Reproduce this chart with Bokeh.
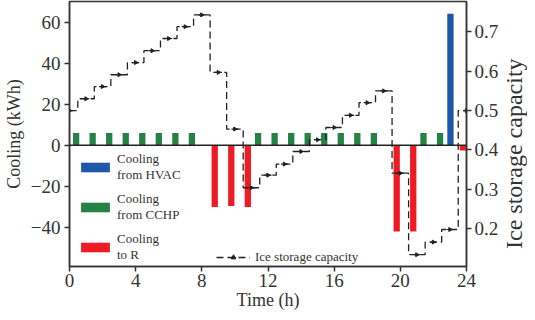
import numpy as np
from bokeh.plotting import figure
from bokeh.layouts import row
from bokeh.models import (ColumnDataSource, Range1d, LinearAxis, FixedTicker, Span,
                          Legend, LegendItem, Div)
from bokeh.transform import dodge
from bokeh.embed import file_html
from bokeh.resources import INLINE

# ---- data ----
hours = list(range(24))
cooling_hvac = [0, 0, 0, 0, 0, 0, 0, 0, 0, 0, 0, 0, 0, 0, 0, 0, 0, 0, 0, 0, 0, 0, 0, 64]
cooling_cchp = [6, 6, 6, 6, 6, 6, 6, 6, 0, 0, 0, 6, 6, 6, 6, 6, 6, 6, 6, 0, 0, 6, 6, 0]
cooling_to_r = [0, 0, 0, 0, 0, 0, 0, 0, -30, -29.5, -30, 0, 0, 0, 0, 0, 0, 0, 0, -42, -42, 0, 0, -2.5]

ice_hours = list(range(25))
ice_capacity = [0.500, 0.530, 0.561, 0.591, 0.622, 0.652, 0.683, 0.713, 0.743,
                0.597, 0.453, 0.304, 0.336, 0.364, 0.396, 0.426, 0.457, 0.488,
                0.520, 0.550, 0.341, 0.134, 0.166, 0.198, 0.500]

x_ticks = [0, 4, 8, 12, 16, 20, 24]
left_ticks = [-40, -20, 0, 20, 40, 60]
left_tick_labels = ["\u221240", "\u221220", "0", "20", "40", "60"]
right_ticks = [0.2, 0.3, 0.4, 0.5, 0.6, 0.7]

legend_labels = ["Cooling\nfrom HVAC", "Cooling\nfrom CCHP", "Cooling\nto R"]
ice_label = "Ice storage capacity"

BLUE = "#1e56a8"
GREEN = "#258242"
RED = "#ed1c24"
INK = "#222222"
FONT = "Liberation Serif"

src = ColumnDataSource(dict(hour=hours, hvac=cooling_hvac, cchp=cooling_cchp, r=cooling_to_r))
ice_src = ColumnDataSource(dict(hour=ice_hours, cap=ice_capacity))

p = figure(width=501, height=312, x_range=Range1d(0, 24), y_range=Range1d(-59, 70),
           output_backend="svg", toolbar_location=None,
           min_border_left=64, min_border_right=32, min_border_top=1, min_border_bottom=46)
p.extra_y_ranges = {"ice": Range1d(0.104, 0.777)}
p.grid.visible = False
p.outline_line_color = "#333333"
p.outline_line_width = 1.5
p.background_fill_color = None
p.border_fill_color = None

bw = 0.38
r_hvac = p.vbar(x=dodge("hour", 0.03), top="hvac", bottom=0, width=bw, source=src,
                fill_color=BLUE, line_color=None)
r_cchp = p.vbar(x=dodge("hour", 0.40), top="cchp", bottom=0, width=bw, source=src,
                fill_color=GREEN, line_color=None)
r_r = p.vbar(x=dodge("hour", 0.78), top="r", bottom=0, width=bw, source=src,
             fill_color=RED, line_color=None)

p.add_layout(Span(location=0, dimension="width", line_color=INK, line_width=1.5))

r_step = p.step(x="hour", y="cap", source=ice_src, mode="center", y_range_name="ice",
                line_color=INK, line_width=1.3, line_dash="7 4")
r_dash = p.scatter(x="hour", y="cap", source=ice_src, y_range_name="ice", marker="dash",
                   size=7, line_color=INK, line_width=1.2)
r_tri = p.scatter(x="hour", y="cap", source=ice_src, y_range_name="ice", marker="triangle",
                  angle=-np.pi / 2, size=4, fill_color=INK, line_color=INK)

# axes styling
p.xaxis.ticker = FixedTicker(ticks=x_ticks)
p.yaxis.ticker = FixedTicker(ticks=left_ticks)
p.yaxis.major_label_overrides = {t: l for t, l in zip(left_ticks, left_tick_labels)}
p.xaxis.axis_label = "Time (h)"
p.yaxis.axis_label = "Cooling (kWh)"

ax_r = LinearAxis(y_range_name="ice", ticker=FixedTicker(ticks=right_ticks))
p.add_layout(ax_r, "right")

for ax in [p.xaxis[0], p.yaxis[0], ax_r]:
    ax.axis_line_color = "#333333"
    ax.axis_line_width = 1.5
    ax.major_tick_line_color = "#333333"
    ax.major_tick_line_width = 1.5
    ax.major_tick_in = 0
    ax.major_tick_out = 5
    ax.minor_tick_line_color = None
    ax.major_label_text_font = FONT
    ax.major_label_text_font_size = "19px"
    ax.major_label_text_color = "#333333"
    ax.major_label_standoff = 4
    ax.axis_label_text_font = FONT
    ax.axis_label_text_font_size = "18px"
    ax.axis_label_text_font_style = "normal"
    ax.axis_label_text_color = "#333333"
    ax.axis_label_standoff = 4
p.xaxis[0].major_label_standoff = 2
p.xaxis[0].axis_label_standoff = 0
ax_r.major_label_standoff = 3

leg1 = Legend(items=[LegendItem(label=legend_labels[0], renderers=[r_hvac]),
                     LegendItem(label=legend_labels[1], renderers=[r_cchp]),
                     LegendItem(label=legend_labels[2], renderers=[r_r])],
              location=(8, 3), glyph_width=36, glyph_height=12, spacing=8,
              padding=0, margin=0, label_standoff=4,
              label_text_font=FONT, label_text_font_size="13px", label_text_color="#333333",
              border_line_color=None, background_fill_alpha=0)
leg2 = Legend(items=[LegendItem(label=ice_label, renderers=[r_step, r_dash, r_tri])],
              location=(147, 1), glyph_width=34, glyph_height=12, padding=0, margin=0,
              label_standoff=5, label_text_font=FONT, label_text_font_size="13px",
              label_text_color="#333333", border_line_color=None, background_fill_alpha=0)
p.add_layout(leg1, "center")
p.add_layout(leg2, "center")

# right-hand axis title, reading bottom-to-top as in the reference
right_title = Div(text=ice_label, width=26, height=308,
                  styles={"writing-mode": "vertical-rl", "transform": "rotate(180deg)",
                          "font-family": FONT, "font-size": "24px", "color": "#333333",
                          "text-align": "center", "line-height": "26px",
                          "white-space": "nowrap", "margin": "0", "padding": "0"})

layout = row(p, right_title)
open("out.html", "w").write(file_html(layout, INLINE))
